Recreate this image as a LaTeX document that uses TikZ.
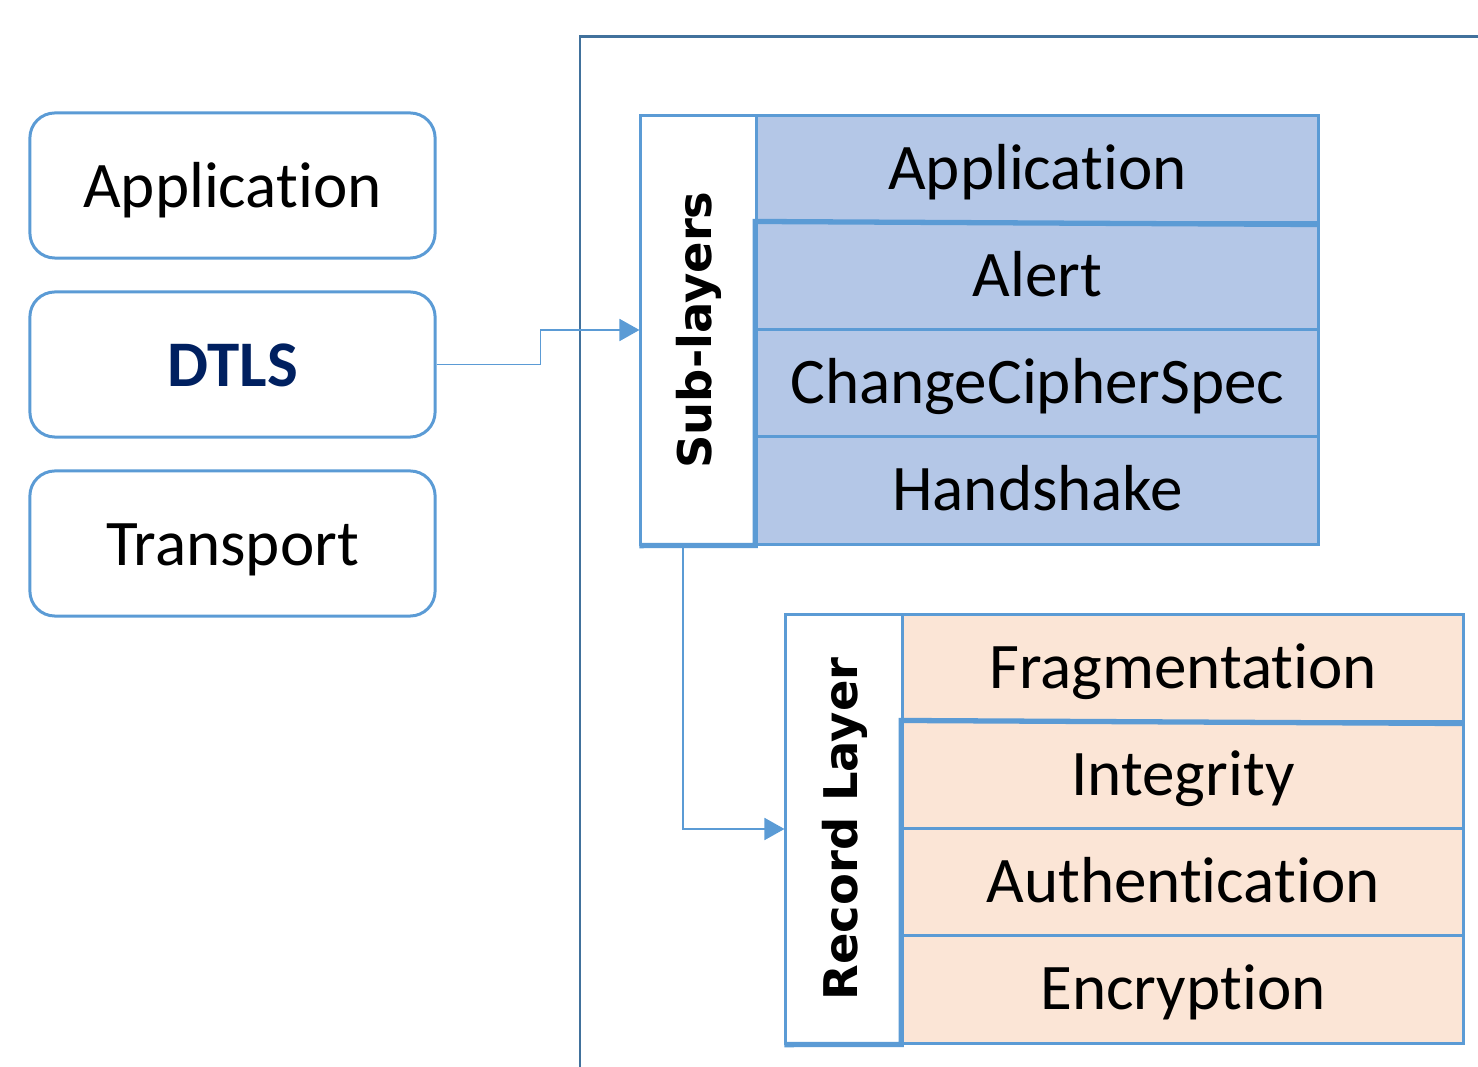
\documentclass[tikz,border=0pt]{standalone}
\usepackage{fontspec}
\setmainfont{Carlito}[Ligatures=NoCommon, RawFeature={-dlig;-clig;-calt}]
\newfontfamily\labelfont{DejaVu Sans}
\usetikzlibrary{arrows.meta}

% keep "t" and "i" as separate glyphs
\newcommand\tsep{t\kern0pt i}

\definecolor{edgeblue}{RGB}{91,155,213}
\definecolor{frameblue}{RGB}{65,113,156}
\definecolor{rowblue}{RGB}{180,199,231}
\definecolor{rowpeach}{RGB}{251,229,214}
\definecolor{navy}{RGB}{0,32,96}

\tikzset{
  layerbox/.style={draw=edgeblue, line width=0.85pt, rounded corners=0.25cm,
    minimum width=4.05cm, minimum height=1.45cm, inner sep=0pt,
    text height=0.5cm, text depth=0.07cm,
    font=\fontsize{18.5}{22}\selectfont},
  sidelabel/.style={draw=edgeblue, fill=white, line width=0.85pt,
    minimum width=1.16cm, minimum height=4.28cm, inner sep=0pt},
  sidetext/.style={rotate=90, font=\labelfont\bfseries\fontsize{13.2}{16}\selectfont},
  subrow/.style={draw=edgeblue, line width=0.85pt, minimum width=5.61cm,
    minimum height=1.07cm, inner sep=0pt,
    text height=0.49cm, text depth=0.09cm,
    font=\fontsize{18.5}{22}\selectfont},
  bluerow/.style={subrow, fill=rowblue},
  peachrow/.style={subrow, fill=rowpeach},
  seam/.style={draw=edgeblue, line width=1.5pt},
  conn/.style={draw=edgeblue, line width=0.5pt,
    -{Triangle[length=0.2cm,width=0.22cm]}},
  frame/.style={draw=frameblue, line width=0.85pt}
}

\begin{document}
\begin{tikzpicture}[x=0.01cm, y=-0.01cm]
  \useasboundingbox (0,0) rectangle (1478,1067);

  % outer frame (only its left and top sides fall inside the page)
  \draw[frame] (580,1090) -- (580,37) -- (1500,37);

  % protocol stack on the left
  \node[layerbox] (app) at (232.5,185.5) {Applica\tsep on};
  \node[layerbox, font=\fontsize{18.5}{22}\selectfont\bfseries, text=navy] (dtls) at (232.5,364.5) {DTLS};
  \node[layerbox] (trans) at (232.5,543.5) {Transport};

  % DTLS sub-layers
  \node[sidelabel] (sub) at (699,330) {};
  \node[sidetext] at (sub.center) {Sub-layers};
  \node[bluerow] (sapp) at (1037.5,169.5) {Applica\tsep on};
  \node[bluerow] (alert) at (1037.5,276.5) {Alert};
  \node[bluerow] (ccs) at (1037.5,383.5) {ChangeCipherSpec};
  \node[bluerow] (hs) at (1037.5,490.5) {Handshake};
  \draw[seam] (sapp.south east) -- (alert.north west) -- (hs.south west) -- (sub.south west);

  % record layer
  \node[sidelabel, minimum width=1.17cm] (rec) at (844.5,829) {};
  \node[sidetext] at (rec.center) {Record Layer};
  \node[peachrow, minimum width=5.60cm] (frag) at (1183,668.5) {Fragmenta\tsep on};
  \node[peachrow, minimum width=5.60cm] (integ) at (1183,775.5) {Integrity};
  \node[peachrow, minimum width=5.60cm] (auth) at (1183,882.5) {Authen\tsep ca\tsep on};
  \node[peachrow, minimum width=5.60cm] (enc) at (1183,989.5) {Encryp\tsep on};
  \draw[seam] (frag.south east) -- (integ.north west) -- (enc.south west) -- (rec.south west);

  % connectors
  \draw[conn] (dtls.east) -- ++(104,0) |- (sub.west);
  \draw[conn] ([xshift=-0.16cm]sub.south) |- (rec.west);
\end{tikzpicture}
\end{document}
